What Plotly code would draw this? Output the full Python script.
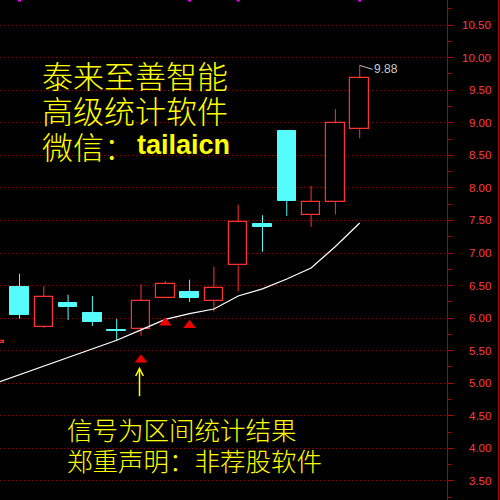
import plotly.graph_objects as go

# ---- data ----
idx = list(range(16))
opens  = [5.615, 6.48, 5.87, 6.23, 6.08, 5.815, 5.84, 6.31, 6.40, 6.26, 6.81, 7.45, 8.87, 7.59, 7.78, 8.90]
closes = [5.650, 6.05, 6.33, 6.17, 5.94, 5.805, 6.26, 6.52, 6.31, 6.46, 7.47, 7.40, 7.80, 7.78, 8.99, 9.68]
highs  = [5.650, 6.68, 6.49, 6.36, 6.34, 5.99, 6.52, 6.57, 6.59, 6.79, 7.74, 7.58, 8.87, 8.03, 9.21, 9.88]
lows   = [5.615, 5.99, 5.85, 5.97, 5.88, 5.65, 5.73, 6.31, 6.25, 6.10, 6.41, 7.02, 7.57, 7.40, 7.59, 8.76]
ma     = [5.00, 5.13, 5.26, 5.40, 5.53, 5.66, 5.82, 5.98, 6.07, 6.14, 6.34, 6.45, 6.60, 6.77, 7.10, 7.46]

signal_idx = [6, 7, 8]
signal_vals = [5.363, 5.931, 5.890]
arrow_idx = 6
arrow_val = 5.254

tick_vals = [3.5, 4.0, 4.5, 5.0, 5.5, 6.0, 6.5, 7.0, 7.5, 8.0, 8.5, 9.0, 9.5, 10.0, 10.5]
tick_labels = ["%.2f" % v for v in tick_vals]
top_marks = [1, 8, 10, 15]

title_lines = ["泰来至善智能", "高级统计软件"]
wechat_label = "微信："
wechat_id = "tailaicn"
note_lines = ["信号为区间统计结果", "郑重声明：非荐股软件"]

RED = "#ff3232"
CYAN = "#54fcfc"
AXIS_RED = "#b40000"
GRID_RED = "#9a0000"
YMIN, YMAX = 3.208, 10.884
XMIN, XMAX = 0.1975, 18.593

up = [i for i in idx if closes[i] >= opens[i]]
dn = [i for i in idx if closes[i] < opens[i]]

fig = go.Figure()

# wicks (split above/below body so hollow bodies stay hollow)
def wick_xy(ids):
    xs, ys = [], []
    for i in ids:
        top = max(opens[i], closes[i]); bot = min(opens[i], closes[i])
        if highs[i] > top:
            xs += [i, i, None]; ys += [top, highs[i], None]
        if lows[i] < bot:
            xs += [i, i, None]; ys += [bot, lows[i], None]
    return xs, ys

for ids, col in ((up, RED), (dn, CYAN)):
    wx, wy = wick_xy(ids)
    fig.add_trace(go.Scatter(x=wx, y=wy, mode="lines", line=dict(color=col, width=1),
                             hoverinfo="skip"))

# bodies
fig.add_trace(go.Bar(x=up, base=[min(opens[i], closes[i]) for i in up],
                     y=[abs(closes[i] - opens[i]) for i in up], width=0.76,
                     marker=dict(color="black", line=dict(color=RED, width=1.2))))
fig.add_trace(go.Bar(x=dn, base=[min(opens[i], closes[i]) for i in dn],
                     y=[abs(closes[i] - opens[i]) for i in dn], width=0.76,
                     marker=dict(color=CYAN, line=dict(color=CYAN, width=1))))

# moving average
fig.add_trace(go.Scatter(x=idx, y=ma, mode="lines", line=dict(color="white", width=1.2)))

# signal triangles
fig.add_trace(go.Scatter(x=signal_idx, y=signal_vals, mode="markers",
                         marker=dict(symbol="triangle-up", size=11, color="#ee0000",
                                     line=dict(width=0))))

# magenta marks on top edge
fig.add_trace(go.Scatter(x=top_marks, y=[YMAX] * len(top_marks), mode="markers", cliponaxis=False,
                         marker=dict(symbol="square", size=3, color="#ff00ff", line=dict(width=0))))

ann = []
# right axis tick labels (right aligned)
for v, t in zip(tick_vals, tick_labels):
    ann.append(dict(xref="paper", yref="y", x=492 / 447, y=v, text=t, showarrow=False,
                    xanchor="right", yanchor="middle", borderpad=0,
                    font=dict(family="Liberation Sans", size=11.5, color="#ff3c3c")))

def px_ann(text, x, y, size, family="Noto Sans CJK SC", color="#ffff00", weight=300):
    return dict(xref="paper", yref="paper", x=x / 447, y=1 - y / 500, text=text,
                showarrow=False, xanchor="left", yanchor="middle", borderpad=0,
                font=dict(family=family, size=size, color=color, weight=weight))

ann.append(px_ann(title_lines[0], 41, 74, 31))
ann.append(px_ann(title_lines[1], 41, 110, 31))
ann.append(px_ann(wechat_label, 41, 145, 31))
ann.append(px_ann(wechat_id, 136, 145, 27, family="Liberation Sans", weight=700))
ann.append(px_ann(note_lines[0], 66, 428, 25.5))
ann.append(px_ann(note_lines[1], 66, 459, 25.5))

# yellow arrow
ann.append(dict(x=arrow_idx, y=arrow_val, xref="x", yref="y", text="", showarrow=True,
                ax=0, ay=31, xshift=-1.5, arrowhead=5, arrowsize=1, arrowwidth=1.5,
                arrowcolor="#ffff00", standoff=0))
# high label
ann.append(dict(x=15, y=highs[15], xref="x", yref="y", text="%.2f" % highs[15], showarrow=True,
                ax=13, ay=4, arrowhead=0, arrowwidth=1, arrowcolor="#c0c0c0", xanchor="left",
                borderpad=0, font=dict(family="Liberation Sans", size=12, color="#c8c8c8")))

fig.update_layout(
    width=500, height=500, margin=dict(l=0, r=53, t=0, b=0),
    paper_bgcolor="black", plot_bgcolor="black", showlegend=False,
    barmode="overlay", bargap=0,
    annotations=ann,
    shapes=[dict(type="line", xref="paper", yref="paper", x0=498.5 / 447, x1=498.5 / 447,
                 y0=0, y1=1, line=dict(color=AXIS_RED, width=1))],
    xaxis=dict(range=[XMIN, XMAX], visible=False, fixedrange=True),
    yaxis=dict(range=[YMIN, YMAX], side="right", tickmode="array", tickvals=tick_vals,
               showticklabels=False, ticks="outside", ticklen=6, tickcolor=AXIS_RED, tickwidth=1,
               showline=True, linecolor=AXIS_RED, linewidth=1, zeroline=False,
               showgrid=True, gridcolor=GRID_RED, gridwidth=1, griddash="1px,3px",
               minor=dict(ticks="outside", ticklen=3, dtick=0.25, tick0=0, tickcolor=AXIS_RED,
                          showgrid=False)),
)

fig.write_html("out.html")
